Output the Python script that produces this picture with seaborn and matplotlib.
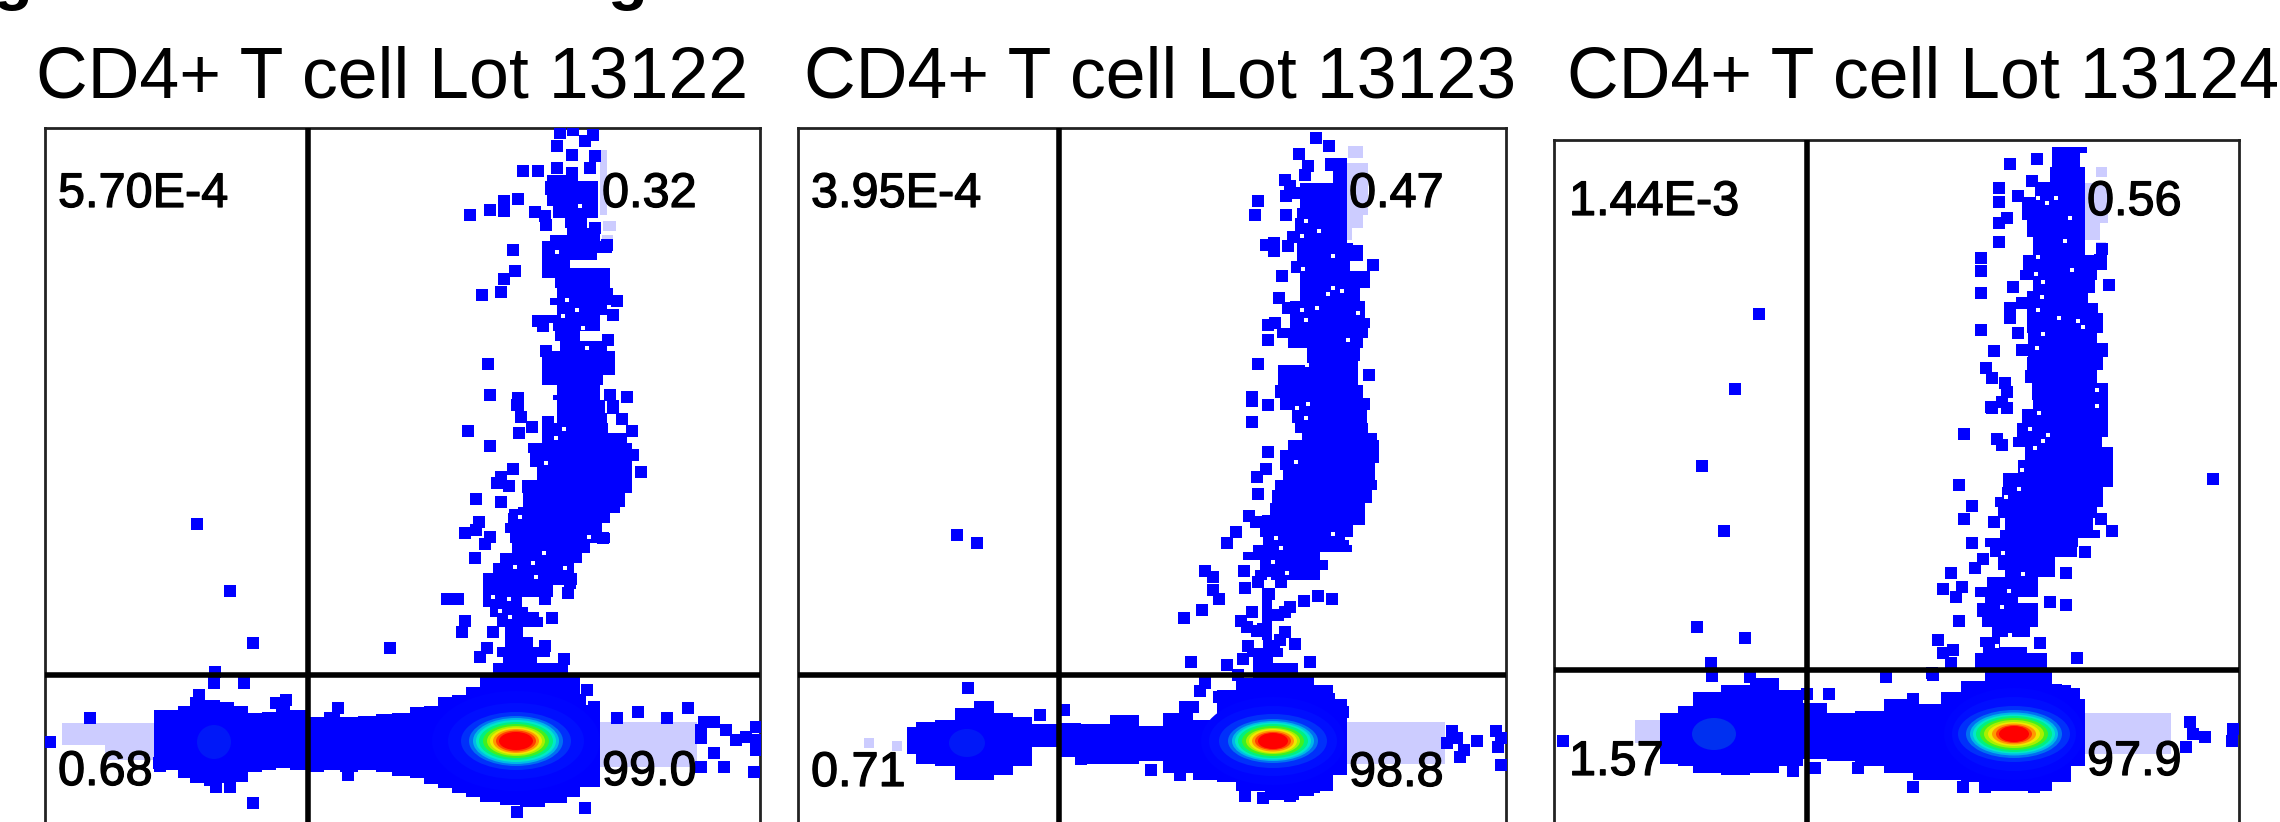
import pandas as pd
import matplotlib.pyplot as plt
import matplotlib.patheffects as pe
import seaborn as sns
from matplotlib.patches import Ellipse

sns.set_theme(style='white')
plt.rcParams['font.family'] = ['Liberation Sans', 'DejaVu Sans']

# all positions below are channel values, one channel = one pixel of the scan
titles = ['CD4+ T cell Lot 13122', 'CD4+ T cell Lot 13123', 'CD4+ T cell Lot 13124']
title_x = [36, 804, 1567]
quad_labels = [['5.70E-4', '0.32', '0.68', '99.0'],
               ['3.95E-4', '0.47', '0.71', '98.8'],
               ['1.44E-3', '0.56', '1.57', '97.9']]

# colours of the density levels, outermost first
core_colors = ['#0004ff', '#000eff', '#0030fa', '#0070f2', '#00b8e8', '#00e8c8', '#00f080',
               '#40f020', '#a8f000', '#f0e800', '#ff9800', '#ff4000', '#ff0000']

# ---- lot 13122 ----
p1_box = [45, 760, 128, 308, 675]
p1_text_y = [207, 785]
p1_text_x = [58, 602]
p1_rows_y = [175, 181, 195, 206, 218, 228, 235, 241, 253, 260, 268, 278, 288, 298, 305, 315, 323, 331,
             341, 351, 365, 375, 385, 395, 400, 413, 423, 433, 443, 453, 467, 480, 493, 507, 513, 523,
             533, 543, 553, 563, 573, 585, 597, 607, 617, 627, 637, 647, 657, 663, 678]
p1_rows_l = [547, 545, 547, 553, 565, 567, 550, 542, 542, 542, 542, 555, 557, 550, 557, 533, 553, 555,
             560, 542, 542, 542, 557, 553, 557, 557, 542, 542, 528, 530, 537, 522, 523, 518, 508, 505,
             510, 512, 500, 493, 483, 483, 483, 490, 497, 505, 505, 497, 503, 493, 493]
p1_rows_r = [578, 598, 598, 598, 587, 600, 600, 612, 597, 570, 610, 610, 613, 623, 607, 600, 600, 580,
             607, 615, 615, 603, 600, 600, 605, 607, 608, 627, 632, 632, 632, 632, 625, 620, 610, 602,
             610, 590, 582, 563, 577, 553, 522, 528, 543, 523, 533, 550, 537, 568, 568]
p1_band_x = [154, 166, 178, 190, 204, 220, 234, 248, 262, 276, 290, 308, 324, 340, 358, 376, 392, 410,
             424, 438, 452, 466, 480, 500, 520, 545, 567, 580, 600]
p1_band_top = [710, 710, 706, 697, 700, 702, 706, 713, 712, 705, 710, 717, 712, 717, 716, 714, 713, 707,
               706, 697, 695, 687, 677, 677, 677, 677, 677, 705, 710]
p1_band_bot = [772, 770, 778, 783, 786, 783, 782, 772, 770, 768, 770, 772, 770, 772, 770, 772, 776, 778,
               784, 788, 793, 797, 802, 805, 807, 803, 797, 787, 770]
p1_dots = [(560, 133), (573, 130), (593, 135), (557, 146), (585, 141), (572, 155), (595, 156), (590, 168),
           (523, 171), (538, 171), (557, 168), (572, 173), (518, 199), (504, 201), (504, 211), (490, 210),
           (470, 215), (535, 212), (545, 216), (546, 225), (595, 228), (513, 250), (515, 271), (504, 279),
           (501, 292), (482, 295), (607, 245), (613, 315), (617, 301), (538, 321), (543, 326), (488, 364),
           (490, 395), (518, 398), (518, 405), (546, 351), (610, 395), (627, 397), (613, 406), (608, 340),
           (517, 405), (521, 417), (468, 431), (519, 433), (532, 427), (548, 422), (490, 446), (613, 408),
           (622, 419), (632, 431), (633, 455), (641, 472), (513, 469), (501, 477), (509, 486), (497, 483),
           (476, 499), (501, 502), (479, 522), (465, 533), (476, 530), (490, 537), (485, 544), (475, 558),
           (515, 515), (603, 538), (568, 568), (570, 583), (568, 593), (447, 599), (458, 599), (545, 599),
           (552, 618), (533, 618), (465, 621), (462, 632), (493, 632), (487, 648), (480, 657), (545, 646),
           (564, 659), (390, 648),
           (197, 524), (230, 591), (253, 643), (215, 672), (214, 683), (244, 683), (253, 803), (585, 808),
           (517, 812), (704, 722), (714, 722), (701, 730), (701, 738), (714, 753), (726, 730), (736, 740),
           (746, 737), (756, 727), (756, 740), (756, 750), (701, 767), (724, 767), (754, 772), (638, 712),
           (688, 708), (667, 718), (617, 718), (580, 700), (587, 690), (594, 707), (50, 742), (90, 718),
           (286, 700), (276, 703), (338, 708), (199, 695), (159, 763), (216, 787), (230, 787), (348, 775)]
p1_holes = [(557, 252), (580, 206), (567, 300), (577, 310), (563, 316), (583, 328), (587, 348), (564, 429),
            (556, 438), (546, 463), (520, 517), (589, 537), (544, 553), (533, 563), (536, 577), (515, 567),
            (493, 597), (509, 599), (500, 611), (510, 617), (565, 568)]
p1_pale_x = [(62, 154), (105, 154), (600, 697), (600, 607), (603, 616), (602, 613)]
p1_pale_y = [(723, 745), (745, 760), (722, 767), (150, 215), (221, 231), (235, 241)]
p1_core_xy = (516, 741)
p1_core_rx = [84, 68, 55, 47, 43, 40, 37, 33, 29, 26, 23, 20, 17]
p1_core_ry = [50, 38, 29, 25, 23, 21, 19, 17, 15, 13.5, 12, 10.5, 9]
p1_side_xy = (214, 742)
p1_side_r = (17, 17)
p1_side_color = '#0018f8'

# ---- lot 13123 ----
p2_box = [798, 1506, 128, 1059, 675]
p2_text_y = [207, 786]
p2_text_x = [811, 1349]
p2_rows_y = [158, 171, 183, 208, 218, 231, 243, 251, 261, 271, 288, 301, 318, 328, 338, 348, 361, 365,
             385, 398, 410, 423, 433, 440, 450, 463, 470, 480, 490, 503, 515, 525, 537, 545, 552, 560,
             570, 580, 588, 600, 640, 648, 657, 663, 678]
p2_rows_l = [1325, 1333, 1300, 1297, 1295, 1287, 1297, 1297, 1300, 1300, 1300, 1290, 1290, 1277, 1288,
             1307, 1307, 1278, 1275, 1280, 1292, 1295, 1302, 1288, 1280, 1280, 1283, 1275, 1272, 1270,
             1262, 1260, 1263, 1253, 1243, 1260, 1255, 1275, 1262, 1262, 1263, 1247, 1253, 1253, 1253]
p2_rows_r = [1347, 1347, 1347, 1347, 1347, 1347, 1353, 1363, 1350, 1370, 1360, 1365, 1370, 1368, 1363,
             1360, 1358, 1358, 1363, 1370, 1367, 1368, 1377, 1379, 1379, 1375, 1375, 1377, 1372, 1365,
             1365, 1353, 1345, 1352, 1320, 1328, 1320, 1287, 1275, 1272, 1280, 1283, 1273, 1298, 1298]
p2_band_x = [907, 916, 935, 955, 974, 994, 1013, 1032, 1057, 1081, 1110, 1139, 1163, 1193, 1217, 1236,
             1265, 1299, 1314, 1333, 1347]
p2_band_top = [727, 722, 720, 708, 701, 713, 717, 724, 723, 724, 715, 726, 713, 720, 690, 678, 677, 677,
               685, 699, 717]
p2_band_bot = [754, 764, 766, 780, 780, 775, 766, 747, 757, 764, 764, 761, 773, 780, 782, 791, 800, 796,
               791, 775, 766]
p2_dots = [(1316, 138), (1329, 146), (1299, 154), (1308, 166), (1305, 175), (1285, 180), (1290, 186),
           (1286, 196), (1295, 193), (1258, 201), (1255, 215), (1286, 215), (1266, 245), (1274, 243),
           (1274, 251), (1288, 246), (1373, 265), (1297, 267), (1282, 276), (1363, 277), (1279, 298),
           (1288, 308), (1268, 325), (1275, 323), (1268, 340), (1258, 364), (1369, 375), (1252, 397),
           (1268, 405), (1357, 251), (1252, 401), (1252, 422), (1268, 452), (1266, 469), (1257, 477),
           (1258, 494), (1249, 516), (1256, 522), (1236, 532), (1227, 543), (1205, 571), (1213, 577),
           (1244, 571), (1245, 588), (1258, 582), (1213, 590), (1219, 599), (1202, 610), (1184, 618),
           (1304, 601), (1318, 596), (1332, 599), (1290, 607), (1285, 612), (1278, 615), (1252, 612),
           (1241, 621), (1247, 627), (1257, 631), (1263, 629), (1285, 632), (1280, 640), (1295, 644),
           (1248, 646), (1243, 659), (1191, 662), (1227, 665), (1310, 662), (1238, 675), (1343, 546),
           (1205, 683), (1200, 691), (1219, 697), (1193, 707), (1185, 707), (1343, 712), (1329, 699),
           (968, 688), (1040, 715), (1064, 710), (957, 535), (977, 543), (1180, 775), (1151, 770),
           (1245, 796), (1263, 798), (1290, 796), (1314, 787), (1081, 759), (1452, 731), (1457, 738),
           (1447, 743), (1477, 741), (1464, 750), (1460, 757), (1496, 731), (1501, 738), (1498, 747),
           (1501, 765)]
p2_holes = [(1306, 221), (1319, 231), (1302, 236), (1333, 256), (1303, 269), (1333, 288), (1328, 294),
            (1342, 291), (1317, 308), (1302, 310), (1306, 320), (1358, 313), (1348, 340), (1307, 365),
            (1308, 404), (1297, 408), (1306, 418), (1296, 462), (1333, 534), (1276, 538), (1281, 548),
            (1273, 562), (1287, 573), (1269, 579)]
p2_pale_x = [(1347, 1445), (1348, 1363), (1347, 1368), (1347, 1363), (1347, 1352), (864, 874), (892, 902)]
p2_pale_y = [(722, 764), (146, 158), (163, 215), (215, 228), (228, 240), (738, 748), (741, 751)]
p2_core_xy = (1273, 741)
p2_core_rx = [72, 64, 54, 45, 41, 38, 35, 31, 27, 24, 21, 18, 15]
p2_core_ry = [44, 35, 27, 22, 20, 18.5, 17, 15, 13, 12, 10.5, 9, 8]
p2_side_xy = (967, 743)
p2_side_r = (18, 14)
p2_side_color = '#0018f8'

# ---- lot 13124 ----
p3_box = [1554, 2239, 140, 1807, 670]
p3_text_y = [215, 775]
p3_text_x = [1569, 2087]
p3_rows_y = [147, 153, 167, 182, 197, 220, 237, 255, 270, 280, 293, 303, 313, 333, 343, 357, 370, 383,
             400, 413, 423, 437, 447, 460, 473, 487, 497, 507, 518, 530, 538, 547, 557, 570, 577, 587,
             597, 603, 617, 627, 637, 647, 653, 672]
p3_rows_l = [2052, 2052, 2050, 2035, 2022, 2027, 2033, 2023, 2020, 2033, 2030, 2027, 2027, 2028, 2028,
             2027, 2025, 2032, 2033, 2022, 2017, 2013, 2025, 2018, 2003, 2002, 1995, 1998, 2005, 2000,
             1985, 1990, 1998, 2005, 1987, 1975, 1985, 1977, 1982, 1992, 1980, 1983, 1975, 1975]
p3_rows_r = [2087, 2080, 2085, 2085, 2085, 2085, 2085, 2107, 2097, 2095, 2088, 2098, 2103, 2097, 2108,
             2103, 2097, 2108, 2108, 2108, 2108, 2102, 2113, 2113, 2113, 2103, 2103, 2097, 2093, 2100,
             2078, 2077, 2055, 2055, 2038, 2038, 2018, 2038, 2038, 2030, 2000, 2027, 2047, 2047]
p3_band_x = [1660, 1678, 1693, 1721, 1750, 1779, 1803, 1827, 1855, 1884, 1913, 1941, 1961, 1985, 2037,
             2052, 2071, 2085]
p3_band_top = [713, 706, 692, 685, 678, 690, 703, 713, 711, 699, 704, 692, 681, 671, 671, 685, 699, 711]
p3_band_bot = [764, 766, 773, 775, 773, 766, 759, 761, 766, 773, 780, 780, 782, 791, 791, 782, 766, 766]
p3_dots = [(2010, 164), (2037, 159), (2032, 181), (2018, 196), (1999, 188), (1999, 202), (2007, 218),
           (1999, 223), (1999, 242), (1981, 258), (1981, 271), (1981, 293), (2013, 287), (2109, 285),
           (2033, 297), (2010, 308), (2010, 318), (2022, 303), (1981, 330), (2018, 333), (2022, 350),
           (1994, 351), (1986, 368), (1992, 378), (2005, 383), (2007, 392), (2002, 402), (2007, 408),
           (1992, 408), (2028, 415), (2102, 249), (2100, 260), (1991, 407), (1964, 434), (1997, 439),
           (2002, 445), (1959, 485), (1972, 506), (1964, 519), (1994, 522), (2101, 519), (2112, 531),
           (1972, 543), (2085, 552), (1983, 559), (1975, 568), (1951, 573), (2066, 573), (1943, 589),
           (1962, 587), (1956, 597), (2050, 602), (2066, 605), (1959, 621), (1938, 640), (1943, 653),
           (1953, 650), (1951, 663), (2077, 658), (1933, 675), (2040, 643), (2213, 479),
           (1759, 314), (1735, 389), (1702, 466), (1724, 531), (1697, 627), (1745, 638), (1711, 663),
           (1712, 676), (1750, 677), (1886, 677), (1932, 673), (1829, 694), (1913, 699), (1807, 694),
           (2074, 694), (2056, 690), (1563, 741), (2190, 722), (2193, 734), (2205, 737), (2186, 747),
           (2233, 729), (2232, 741), (1913, 787), (1963, 787), (1985, 787), (2034, 787), (1858, 768),
           (1793, 771), (1815, 768)]
p3_holes = [(2038, 198), (2056, 198), (2047, 203), (2070, 218), (2065, 241), (2038, 257), (2072, 270),
            (2036, 274), (2043, 282), (2042, 297), (2038, 310), (2059, 318), (2078, 321), (2083, 327),
            (2043, 334), (2037, 348), (2097, 390), (2097, 406), (2039, 413), (2030, 429), (2048, 435),
            (2043, 441), (2035, 448), (2022, 470), (2019, 489), (2006, 497), (2085, 542), (2003, 553),
            (2023, 574), (2009, 591), (2002, 607), (2010, 635), (1997, 646)]
p3_pale_x = [(2085, 2171), (1635, 1660), (2096, 2107), (2085, 2108), (2085, 2100), (2096, 2106)]
p3_pale_y = [(713, 754), (720, 743), (167, 177), (183, 223), (223, 240), (242, 247)]
p3_core_xy = (2014, 734)
p3_core_rx = [70, 62, 56, 48, 44, 41, 38, 34, 30, 26, 22, 18, 15]
p3_core_ry = [46, 37, 28, 24, 21.5, 19.5, 18, 16, 14, 12, 10.5, 9, 8]
p3_side_xy = (1714, 734)
p3_side_r = (22, 16)
p3_side_color = '#0030f0'

panels = [
    (p1_box, p1_text_x, p1_text_y, p1_rows_y, p1_rows_l, p1_rows_r, p1_band_x, p1_band_top, p1_band_bot,
     p1_dots, p1_holes, p1_pale_x, p1_pale_y, p1_core_xy, p1_core_rx, p1_core_ry, p1_side_xy, p1_side_r,
     p1_side_color),
    (p2_box, p2_text_x, p2_text_y, p2_rows_y, p2_rows_l, p2_rows_r, p2_band_x, p2_band_top, p2_band_bot,
     p2_dots, p2_holes, p2_pale_x, p2_pale_y, p2_core_xy, p2_core_rx, p2_core_ry, p2_side_xy, p2_side_r,
     p2_side_color),
    (p3_box, p3_text_x, p3_text_y, p3_rows_y, p3_rows_l, p3_rows_r, p3_band_x, p3_band_top, p3_band_bot,
     p3_dots, p3_holes, p3_pale_x, p3_pale_y, p3_core_xy, p3_core_rx, p3_core_ry, p3_side_xy, p3_side_r,
     p3_side_color),
]

W, H = 2280, 822
BLUE = '#0000ff'
PALE = '#ccccff'
stroke = [pe.withStroke(linewidth=0.9, foreground='black')]

fig = plt.figure(figsize=(W / 100, H / 100), dpi=100, facecolor='white')

for n, (box, text_x, text_y, rows_y, rows_l, rows_r, band_x, band_top, band_bot, dots, holes,
        pale_x, pale_y, core_xy, core_rx, core_ry, side_xy, side_r, side_color) in enumerate(panels):
    left, right, top, gate_x, gate_y = box
    ax = fig.add_axes([left / W, 0, (right - left) / W, 1 - top / H])
    ax.set_xlim(left, right)
    ax.set_ylim(H, top)

    # pale low-count areas
    for (x0, x1), (y0, y1) in zip(pale_x, pale_y):
        ax.fill_between([x0, x1], y0, y1, color=PALE, lw=0, zorder=1)

    # the solid populations
    ax.fill_betweenx(rows_y, rows_l, rows_r, step='post', color=BLUE, lw=0, zorder=2)
    ax.fill_between(band_x, band_top, band_bot, step='post', color=BLUE, lw=0, zorder=2)

    # single events
    df = pd.DataFrame(dots, columns=['x', 'y'])
    sns.scatterplot(data=df, x='x', y='y', ax=ax, marker='s', s=78, color=BLUE, linewidth=0, zorder=3)

    # empty channels inside the populations
    df_holes = pd.DataFrame(holes, columns=['x', 'y'])
    sns.scatterplot(data=df_holes, x='x', y='y', ax=ax, marker='s', s=5, color='white', linewidth=0, zorder=3.5)

    # density levels
    ax.add_patch(Ellipse(side_xy, side_r[0] * 2, side_r[1] * 2, color=side_color, lw=0, zorder=4))
    for rx, ry, c in zip(core_rx, core_ry, core_colors):
        ax.add_patch(Ellipse(core_xy, rx * 2, ry * 2, color=c, lw=0, zorder=4))

    # gates
    ax.axvline(gate_x, color='black', lw=4.0, zorder=5)
    ax.axhline(gate_y, color='black', lw=4.0, zorder=5)

    # quadrant percentages
    labels = quad_labels[n]
    positions = [(text_x[0], text_y[0]), (text_x[1], text_y[0]), (text_x[0], text_y[1]), (text_x[1], text_y[1])]
    for (tx, ty), lab in zip(positions, labels):
        ax.text(tx, ty, lab, fontsize=35, va='baseline', color='black', zorder=6, path_effects=stroke)

    ax.set_xlabel('')
    ax.set_ylabel('')
    ax.set_xticks([])
    ax.set_yticks([])
    ax.spines['bottom'].set_visible(False)
    for side in ['left', 'right', 'top']:
        ax.spines[side].set_color('#222222')
        ax.spines[side].set_linewidth(2.0)

    fig.text(title_x[n] / W, 1 - 97 / H, titles[n], fontsize=51.6, color='black', va='baseline', ha='left')

# bottom of the cropped heading above the panels
fig.text(-8 / W, 1 + 2 / H, 'g', fontsize=47, fontweight='bold', color='black', va='baseline')
fig.text(607 / W, 1 + 2 / H, 'g', fontsize=47, fontweight='bold', color='black', va='baseline')

plt.savefig('out.png', dpi=100)
plt.close()
